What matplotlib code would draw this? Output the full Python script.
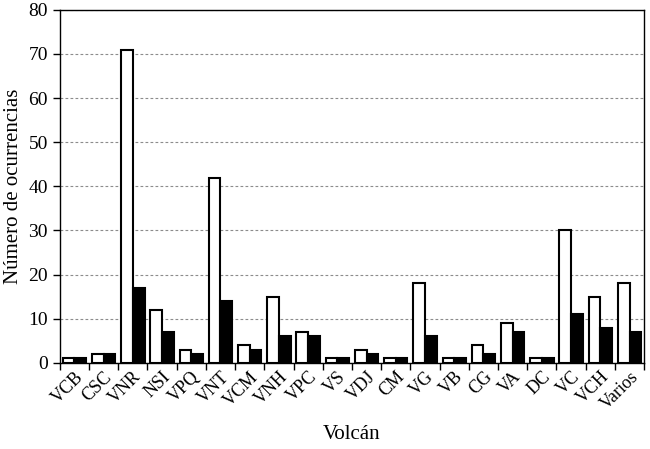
import numpy as np
import matplotlib
matplotlib.use('Agg')
import matplotlib.pyplot as plt

plt.rcParams['font.family'] = ['Liberation Serif', 'DejaVu Serif']

# datos
volcanes = ['VCB', 'CSC', 'VNR', 'NSI', 'VPQ', 'VNT', 'VCM', 'VNH', 'VPC', 'VS',
            'VDJ', 'CM', 'VG', 'VB', 'CG', 'VA', 'DC', 'VC', 'VCH', 'Varios']
serie_blanca = [1, 2, 71, 12, 3, 42, 4, 15, 7, 1, 3, 1, 18, 1, 4, 9, 1, 30, 15, 18]
serie_negra = [1, 2, 17, 7, 2, 14, 3, 6, 6, 1, 2, 1, 6, 1, 2, 7, 1, 11, 8, 7]

fig = plt.figure(figsize=(6.5, 4.49), dpi=100)
ax = fig.add_axes([0.092, 0.192, 0.899, 0.786])

x = np.arange(len(volcanes))
w = 0.40
ax.bar(x + 0.5 - w / 2, serie_blanca, width=w, color='white', edgecolor='black',
       linewidth=1.5, zorder=3)
ax.bar(x + 0.5 + w / 2, serie_negra, width=w, color='black', edgecolor='black',
       linewidth=1.5, zorder=3)

ax.set_xlim(0, len(volcanes))
ax.set_ylim(0, 80)
ax.set_yticks(range(0, 81, 10))
ax.yaxis.grid(True, linestyle=(0, (2.5, 2)), color='#8c8c8c', linewidth=0.8, zorder=0)

# ticks en los bordes, etiquetas en el centro
ax.set_xticks(np.arange(0, len(volcanes) + 1))
ax.set_xticklabels([])
ax.set_xticks(x + 0.5, minor=True)
ax.set_xticklabels(volcanes, minor=True, rotation=45, ha='right',
                   rotation_mode='anchor', fontsize=13)
ax.tick_params(axis='x', which='minor', length=0, pad=4)
ax.tick_params(axis='x', which='major', length=5, width=1, direction='out')
ax.tick_params(axis='y', length=5, width=1, direction='out', labelsize=14)

for s in ax.spines.values():
    s.set_linewidth(1.0)
    s.set_color('black')

ax.set_ylabel('Número de ocurrencias', fontsize=15, labelpad=4)
ax.set_xlabel('Volcán', fontsize=15, labelpad=9)

fig.savefig('out.png', dpi=100)
